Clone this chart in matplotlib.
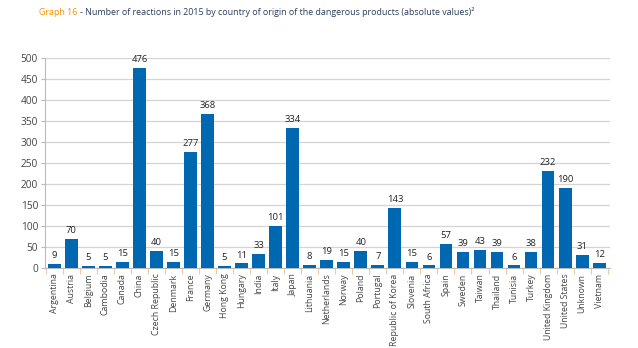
import matplotlib.pyplot as plt
import numpy as np

plt.rcParams['font.family'] = ['Open Sans', 'DejaVu Sans']

countries = ['Argentina', 'Austria', 'Belgium', 'Cambodia', 'Canada', 'China',
             'Czech Republic', 'Denmark', 'France', 'Germany', 'Hong Kong',
             'Hungary', 'India', 'Italy', 'Japan', 'Lithuania', 'Netherlands',
             'Norway', 'Poland', 'Portugal', 'Republic of Korea', 'Slovenia',
             'South Africa', 'Spain', 'Sweden', 'Taiwan', 'Thailand', 'Tunisia',
             'Turkey', 'United Kingdom', 'United States', 'Unknown', 'Vietnam']
reactions = [9, 70, 5, 5, 15, 476, 40, 15, 277, 368, 5, 11, 33, 101, 334, 8,
             19, 15, 40, 7, 143, 15, 6, 57, 39, 43, 39, 6, 38, 232, 190, 31, 12]

fig = plt.figure(figsize=(6.38, 3.48), dpi=100)
ax = fig.add_axes([0.0705, 0.23, 0.886, 0.603])

x = np.arange(len(countries))
ax.bar(x, reactions, width=0.75, color='#0068b1', zorder=3)
for xi, v in zip(x, reactions):
    ax.text(xi, v + 9, str(v), ha='center', va='bottom', fontsize=6.8,
            color='#222222', clip_on=False)

ax.set_xlim(-0.55, len(countries) - 0.35)
ax.set_ylim(0, 500)
ax.set_yticks(range(0, 501, 50))
ax.yaxis.grid(True, color='#d4d4d4', linewidth=0.9, zorder=0)
ax.set_xticks(x)
ax.set_xticklabels(countries, rotation=90, fontsize=6.3, color='#444444')
ax.set_xticks(np.arange(-0.5, len(countries), 1), minor=True)
ax.tick_params(axis='x', which='major', length=0, pad=4)
ax.tick_params(axis='x', which='minor', length=4, color='#f0c8a0', width=0.8)
ax.tick_params(axis='y', length=3, color='#bbbbbb', labelsize=7.3,
               labelcolor='#444444', pad=2)
for s in ['top', 'right']:
    ax.spines[s].set_visible(False)
ax.spines['left'].set_color('#bbbbbb')
ax.spines['bottom'].set_color('#bbbbbb')

# title in two colours: second part placed right after the first
t1 = fig.text(0.061, 0.965, 'Graph 16', color='#f39200', fontsize=6.4, va='center')
fig.canvas.draw()
bb = t1.get_window_extent()
fig.text((bb.x1 + 3) / fig.bbox.width, 0.965,
         '- Number of reactions in 2015 by country of origin of the dangerous products (absolute values)\u00b2',
         color='#2b3f5c', fontsize=6.4, va='center')

fig.savefig('out.png', dpi=100)
